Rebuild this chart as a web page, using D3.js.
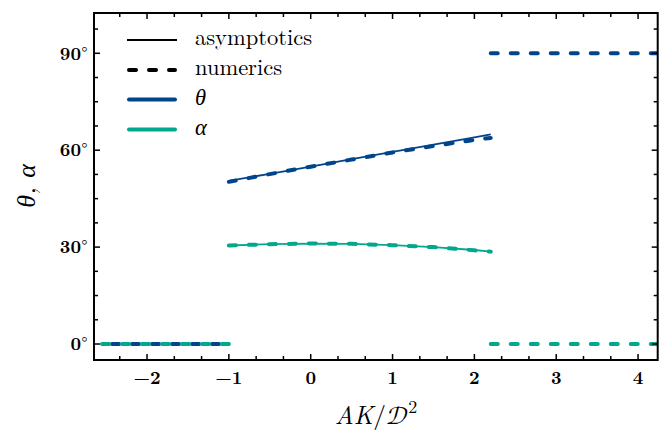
<!DOCTYPE html>
<html><head><meta charset="utf-8">
<script src="https://cdn.jsdelivr.net/npm/d3@7"></script>
<style>body{margin:0;background:#fff}svg{display:block}</style>
</head><body><svg id="c" width="667" height="432"></svg>
<script>
// ---- data ----
const asymX = [-1, -0.5, 0, 0.5, 1, 1.5, 2, 2.2];
const asymTheta = [50.5, 52.7, 54.9, 57.2, 59.5, 61.7, 64.0, 64.9];
const asymAlpha = [30.5, 30.9, 31.1, 31.0, 30.6, 30.0, 29.1, 28.6];
const numX = [-1, -0.5, 0, 0.5, 1, 1.5, 2, 2.2];
const numTheta = [50.2, 52.6, 54.9, 57.1, 59.3, 61.3, 63.2, 63.8];
const numAlpha = [30.5, 30.9, 31.1, 31.0, 30.6, 30.0, 29.0, 28.6];
const leftX = [-2.55, -1];
const leftTheta = [0, 0];
const leftAlpha = [0, 0];
const rightX = [2.2, 4.3];
const rightTheta = [90, 90];
const rightAlpha = [0, 0];
const xTicks = [-2, -1, 0, 1, 2, 3, 4];
const yTicks = [0, 30, 60, 90];
const legendLabels = ["asymptotics", "numerics", "θ", "α"];

// pick an installed serif face per style
const ctx = document.createElement("canvas").getContext("2d");
const cands = ["Latin Modern Roman", "CMU Serif", "Liberation Serif", "Times New Roman", "Tinos", "Noto Serif", "DejaVu Serif", "FreeSerif", "Nimbus Roman"];
function has(fam, style) {
  const s = "asymptotics numerics AK 0123456789";
  for (const fb of ["monospace", "sans-serif"]) {
    ctx.font = style + " 40px " + fb;
    const a = ctx.measureText(s).width;
    ctx.font = style + " 40px \"" + fam + "\", " + fb;
    if (Math.abs(ctx.measureText(s).width - a) > 0.5) return true;
  }
  return false;
}
function pick(style) {
  const f = cands.find(c => has(c, style));
  return (f ? "\"" + f + "\", " : "") + "serif";
}
const FR = pick("normal"), FI = pick("italic"), FB = pick("bold");

const BLUE = "#00458b", TEAL = "#00a98d";
const svg = d3.select("#c");
const L = 94, R = 657.7, T = 13, B = 360;
const x = d3.scaleLinear().domain([-2.648, 4.24]).range([L, R]);
const y = d3.scaleLinear().domain([-4.95, 102.47]).range([B, T]);

svg.append("clipPath").attr("id", "clip").append("rect")
  .attr("x", L).attr("y", T).attr("width", R - L).attr("height", B - T);
const plot = svg.append("g").attr("clip-path", "url(#clip)");
const line = d3.line().x(d => x(d[0])).y(d => y(d[1]));
const zip = (xs, ys) => xs.map((v, i) => [v, ys[i]]);

function dashed(xs, ys, color, offset) {
  plot.append("path").attr("d", line(zip(xs, ys))).attr("fill", "none")
    .attr("stroke", color).attr("stroke-width", 4).attr("stroke-linecap", "round")
    .attr("stroke-dasharray", "7,13").attr("stroke-dashoffset", offset || 0);
}
function solid(xs, ys, color) {
  plot.append("path").attr("d", line(zip(xs, ys))).attr("fill", "none")
    .attr("stroke", color).attr("stroke-width", 1.8);
}
// numerics
dashed(leftX, leftTheta, BLUE, -10);
dashed(leftX, leftAlpha, TEAL, 0);
dashed(numX, numTheta, BLUE, 0);
dashed(numX, numAlpha, TEAL, 0);
dashed(rightX, rightTheta, BLUE, 0);
dashed(rightX, rightAlpha, TEAL, 0);
// asymptotics
solid(asymX, asymTheta, BLUE);
solid(asymX, asymAlpha, TEAL);

// ticks
const xMinor = d3.range(-8, 14).map(k => k / 3).filter(v => v > -2.648 && v < 4.24 && Math.abs(v - Math.round(v)) > 1e-6);
const yMinor = d3.range(0, 14).map(k => k * 7.5).filter(v => v < 102.47 && v % 30 !== 0);
const tk = svg.append("g").attr("stroke", "#000").attr("stroke-width", 1.5);
function xt(v, len) {
  tk.append("line").attr("x1", x(v)).attr("x2", x(v)).attr("y1", B).attr("y2", B - len);
  tk.append("line").attr("x1", x(v)).attr("x2", x(v)).attr("y1", T).attr("y2", T + len);
}
function yt(v, len) {
  tk.append("line").attr("y1", y(v)).attr("y2", y(v)).attr("x1", L).attr("x2", L + len);
  tk.append("line").attr("y1", y(v)).attr("y2", y(v)).attr("x1", R).attr("x2", R - len);
}
xTicks.forEach(v => xt(v, 6)); xMinor.forEach(v => xt(v, 4));
yTicks.forEach(v => yt(v, 6)); yMinor.forEach(v => yt(v, 4));

svg.append("rect").attr("x", L).attr("y", T).attr("width", R - L).attr("height", B - T)
  .attr("fill", "none").attr("stroke", "#000").attr("stroke-width", 2);

// tick labels
svg.append("g").selectAll("text").data(xTicks).join("text")
  .attr("x", d => x(d)).attr("y", 384).attr("text-anchor", "middle")
  .attr("font-family", FB).attr("font-weight", "bold").attr("font-size", 18.5)
  .text(d => d < 0 ? "\u2212" + Math.abs(d) : d);
const yl = svg.append("g").selectAll("text").data(yTicks).join("text")
  .attr("x", 87.5).attr("y", d => y(d) + 6.3).attr("text-anchor", "end")
  .attr("font-family", FB).attr("font-size", 18.5);
yl.append("tspan").attr("font-weight", "bold").text(d => d);
yl.append("tspan").attr("font-family", FR).attr("dy", -1).attr("font-size", 17).text("\u00b0");

// axis titles
const xl = svg.append("text").attr("x", 376).attr("y", 424).attr("text-anchor", "middle")
  .attr("font-family", FI).attr("font-style", "italic").attr("font-size", 25.5);
xl.append("tspan").text("AK");
xl.append("tspan").attr("font-family", FR).attr("font-style", "normal").text("/");
xl.append("tspan").attr("font-family", "\"Latin Modern Math\", " + FI).attr("font-style", "normal").text("\ud835\udc9f");
xl.append("tspan").attr("font-family", FR).attr("font-style", "normal").attr("font-size", 18).attr("dy", -11).text("2");

svg.append("text").attr("transform", "translate(35,186) rotate(-90)").attr("text-anchor", "middle")
  .attr("font-family", FI).attr("font-style", "italic").attr("font-size", 26).text("θ, α");

// legend
const lg = svg.append("g");
const rows = [40, 70, 99.5, 129.5];
const styles = [
  {c: "#000", w: 1.8, dash: null},
  {c: "#000", w: 4, dash: "7,13"},
  {c: BLUE, w: 4, dash: null},
  {c: TEAL, w: 4, dash: null}
];
legendLabels.forEach((lab, i) => {
  const s = styles[i];
  const ln = lg.append("line").attr("x1", s.w > 2 ? 129 : 127).attr("x2", s.w > 2 ? 175 : 177).attr("y1", rows[i]).attr("y2", rows[i])
    .attr("stroke", s.c).attr("stroke-width", s.w).attr("stroke-linecap", s.w > 2 ? "round" : "butt");
  if (s.dash) ln.attr("stroke-dasharray", s.dash);
  lg.append("text").attr("x", 195).attr("y", rows[i] + 5)
    .attr("font-family", i >= 2 ? FI : FR)
    .attr("font-size", 22.5).attr("font-style", i >= 2 ? "italic" : "normal").text(lab);
});
</script></body></html>
